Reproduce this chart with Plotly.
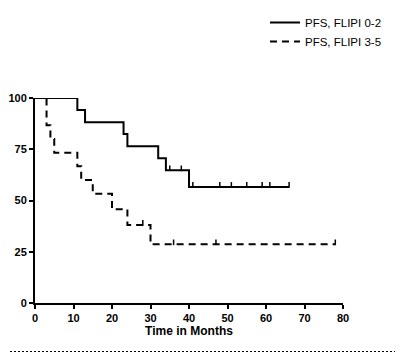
import plotly.graph_objects as go

# Data (Kaplan-Meier style step curves)
solid_time = [0, 11, 13, 23, 24, 32, 34, 40, 66]
solid_surv = [100, 94.1, 88.2, 82.4, 76.5, 70.6, 64.7, 56.6, 56.6]
solid_cens_time = [35, 38, 41, 48, 51, 55, 59, 61, 66]
solid_cens_surv = [64.7, 64.7, 56.6, 56.6, 56.6, 56.6, 56.6, 56.6, 56.6]

dashed_time = [0, 3, 4, 5, 11, 12, 15, 20, 24, 30, 78]
dashed_surv = [100, 86.7, 80, 73.3, 66.7, 60, 53.3, 45.7, 38.1, 28.6, 28.6]
dashed_cens_time = [28, 36, 47, 78]
dashed_cens_surv = [38.1, 28.6, 28.6, 28.6]

x_ticks = [0, 10, 20, 30, 40, 50, 60, 70, 80]
y_ticks = [0, 25, 50, 75, 100]

FONT = "Arial, Liberation Sans, sans-serif"
TICK_LIFT = 1.0  # censor ticks sit on top of the line

# page body has an 8px default margin -> work in figure coordinates
OFF = 8
W, H = 403 - OFF, 353 - OFF
L, R, T, B = 35 - OFF, W - (343 - OFF), 98 - OFF, H - (303 - OFF)
pw, ph = W - L - R, H - T - B
def px(page_x): return (page_x - OFF - L) / pw
def py(page_y): return (H - B - (page_y - OFF)) / ph

fig = go.Figure()
fig.add_trace(go.Scatter(x=solid_time, y=solid_surv, mode="lines", line_shape="hv",
                         line=dict(color="black", width=2), name="PFS, FLIPI 0-2"))
fig.add_trace(go.Scatter(x=dashed_time, y=dashed_surv, mode="lines", line_shape="hv",
                         line=dict(color="black", width=2, dash="7px,5px"), name="PFS, FLIPI 3-5"))
fig.add_trace(go.Scatter(x=solid_cens_time, y=[s + TICK_LIFT for s in solid_cens_surv],
                         mode="markers", showlegend=False,
                         marker=dict(symbol="line-ns", size=4, line=dict(color="black", width=1.5))))
fig.add_trace(go.Scatter(x=dashed_cens_time, y=[s + TICK_LIFT for s in dashed_cens_surv],
                         mode="markers", showlegend=False,
                         marker=dict(symbol="line-ns", size=4, line=dict(color="black", width=1.5))))

# dotted frame on the right and bottom edges of the image (top/left sides fall outside the figure)
RIGHT_EDGE = 397.5
BOTTOM_EDGE = 351.5
fig.add_shape(type="rect", xref="paper", yref="paper",
              x0=px(OFF - 10), x1=px(RIGHT_EDGE), y0=py(BOTTOM_EDGE), y1=py(OFF - 10),
              line=dict(color="black", width=1, dash="2px,2px"), fillcolor="rgba(0,0,0,0)")
fig.add_shape(type="line", xref="paper", yref="paper",
              x0=px(RIGHT_EDGE - 1), x1=px(RIGHT_EDGE - 1), y0=py(BOTTOM_EDGE), y1=py(OFF - 10),
              line=dict(color="black", width=1.5, dash="2px,2px"))

fig.update_layout(
    width=W, height=H,
    margin=dict(l=L, r=R, t=T, b=B, autoexpand=False),
    paper_bgcolor="white", plot_bgcolor="white",
    font=dict(family=FONT, color="black"),
    showlegend=True,
    legend=dict(xref="container", yref="container", x=(265 - OFF) / W, y=1 + (OFF - 3) / H,
                xanchor="left", yanchor="top",
                font=dict(size=11.5, family=FONT), itemwidth=30,
                bgcolor="rgba(0,0,0,0)", tracegroupgap=0),
    xaxis=dict(range=[0, 80], tickvals=x_ticks, showgrid=False, zeroline=False,
               showline=True, linecolor="black", linewidth=2,
               ticks="outside", ticklen=4, tickwidth=2, tickcolor="black",
               tickfont=dict(size=11, family=FONT, weight="bold"),
               title=dict(text="Time in Months", font=dict(size=12, family=FONT, weight="bold"), standoff=0)),
    yaxis=dict(range=[0, 100], tickvals=y_ticks, showgrid=False, zeroline=False,
               showline=True, linecolor="black", linewidth=2,
               ticks="outside", ticklen=4, tickwidth=2, tickcolor="black",
               tickfont=dict(size=11, family=FONT, weight="bold")),
)

fig.write_html("out.html")
